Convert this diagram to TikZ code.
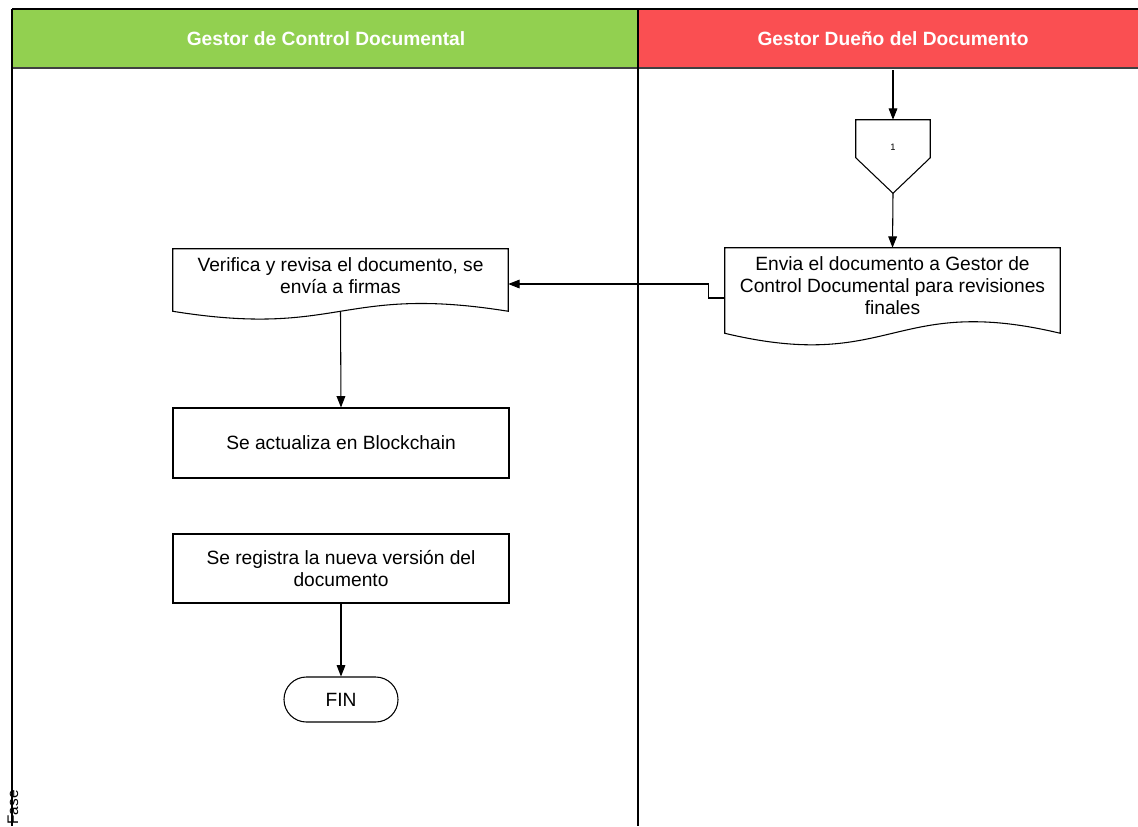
\documentclass[tikz,border=0pt]{standalone}
\usepackage{fontspec}
\setmainfont{Liberation Sans}
\usetikzlibrary{arrows.meta,calc}
\definecolor{lanegreen}{HTML}{92D050}
\definecolor{lanered}{HTML}{FA4F52}
\begin{document}
\begin{tikzpicture}[x=0.75pt,y=-0.75pt,
  every node/.style={font=\fontsize{14.4}{16.5}\selectfont},
  box/.style={draw, line width=0.8pt, minimum width=252pt, align=center, inner sep=0pt},
  docbox/.style={minimum width=251.25pt, align=center, inner sep=0pt},
  outline/.style={line width=0.8pt},
  arr/.style={-{Triangle[length=8.5pt,width=6.5pt]}, line width=0.8pt},
  hdr/.style={font=\fontsize{14.4}{16.5}\selectfont\bfseries, text=white},
  lane/.style={line width=0.9pt},
]
\useasboundingbox (0,0) rectangle (1138,826);
% headers
\fill[lanegreen] (12,9) rectangle (638,68);
\fill[lanered] (638,9) rectangle (1138,68);
\draw[line width=1.2pt] (12,9) -- (1138,9);
\draw[line width=1.2pt, black!75] (12,68) -- (1138,68);
\draw[lane] (12,9) -- (12,826);
\draw[lane] (638,9) -- (638,826);
\node[hdr] (h1) at (326,38.5) {Gestor de Control Documental};
\node[hdr] (h2) at (893,38.5) {Gestor Dueño del Documento};
\node[rotate=90, anchor=base east, inner sep=0pt, font=\fontsize{11.5}{13}\selectfont] (fase) at (18,790) {Fase};
% off-page connector
\coordinate (in) at (893,70);
\node[minimum width=55.5pt, minimum height=54.75pt, inner sep=0pt] (off) at (893,156.5) {};
\draw[outline] (off.north west) -- (off.north east) -- ($(off.north east)+(0,38)$) -- (off.south) -- ($(off.north west)+(0,38)$) -- cycle;
\node[font=\fontsize{7}{8}\selectfont] (offl) at (893,147) {1};
% documents
\node[docbox, minimum height=57pt] (envia) at (892.5,286) {Envia el documento a Gestor de\\Control Documental para revisiones\\finales};
\draw[outline] (envia.north west) -- (envia.north east) -- ($(envia.south east)+(0,9)$)
  .. controls ($(envia.south)+(0,-31)$) and ($(envia.south)+(0,49)$) .. ($(envia.south west)+(0,9)$) -- cycle;
\node[docbox, minimum height=40.5pt] (verif) at (340.5,276) {Verifica y revisa el documento, se\\envía a firmas};
\draw[outline] (verif.north west) -- (verif.north east) -- ($(verif.south east)+(0,8)$)
  .. controls ($(verif.south)+(0,-19)$) and ($(verif.south)+(0,35)$) .. ($(verif.south west)+(0,8)$) -- cycle;
% process boxes
\node[box, minimum height=52.5pt] (block) at (341,443) {Se actualiza en Blockchain};
\node[box, minimum height=51.75pt] (reg) at (341,568.5) {Se registra la nueva versión del\\documento};
\node[draw, line width=0.8pt, minimum width=85.5pt, minimum height=33.75pt, rounded corners=16.8pt, inner sep=0pt] (fin) at (341,699.5) {FIN};
% connectors
\draw[arr] (in) -- (off.north);
\draw[arr] (off.south) -- (envia.north);
\draw[arr] ($(envia.west)+(0,12)$) -| ++(-16,-14) -- ([yshift=-6pt]verif.east);
\draw[arr] ($(verif.south)+(0,8)$) -- (block.north);
\draw[arr] (reg.south) -- (fin.north);
\end{tikzpicture}
\end{document}
